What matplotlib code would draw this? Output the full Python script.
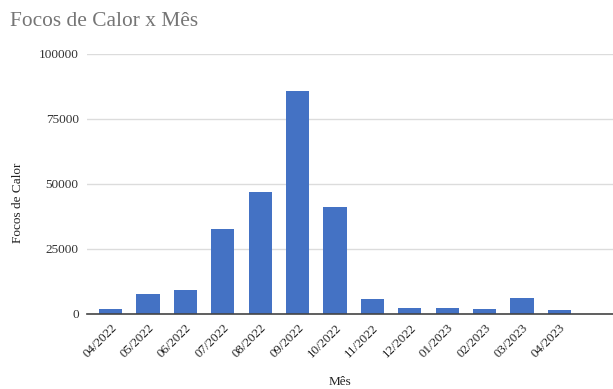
import matplotlib
matplotlib.use("Agg")
import matplotlib.pyplot as plt

months = ["04/2022", "05/2022", "06/2022", "07/2022", "08/2022", "09/2022",
          "10/2022", "11/2022", "12/2022", "01/2023", "02/2023", "03/2023", "04/2023"]
focos = [1700, 7500, 9100, 32500, 46900, 85800, 40900, 5650, 2200, 2200, 1700, 6000, 1300]
yticks = [0, 25000, 50000, 75000, 100000]

plt.rcParams["font.family"] = ["Liberation Serif", "DejaVu Serif"]

fig = plt.figure(figsize=(6.13, 3.89), dpi=100)
W, H = 613, 389
ax = fig.add_axes([87 / W, 1 - 313.7 / H, (613 - 87) / W, (313.7 - 53.7) / H])

x = list(range(len(months)))
ax.bar(x, focos, width=0.62, color="#4472c4", zorder=3)

ax.set_ylim(0, 100000)
ax.set_xlim(-0.63, 13.43)
ax.set_yticks(yticks)
ax.set_yticklabels([str(v) for v in yticks], fontsize=9.5, color="#333333")
ax.set_xticks(x)
ax.set_xticklabels(months, rotation=45, ha="right", rotation_mode="anchor",
                   fontsize=9.3, color="#222222")
ax.tick_params(axis="both", length=0)
ax.tick_params(axis="y", pad=6)
ax.tick_params(axis="x", pad=6)

ax.grid(axis="y", color="#dcdcdc", linewidth=1, zorder=0)
for s in ("top", "right", "left"):
    ax.spines[s].set_visible(False)
ax.spines["bottom"].set_color("#444444")
ax.spines["bottom"].set_linewidth(1.2)
ax.spines["bottom"].set_zorder(4)

fig.text(10 / W, 1 - 22 / H, "Focos de Calor x Mês", fontsize=15.4, color="#757575",
         va="center", ha="left")
fig.text(18 / W, 1 - 203 / H, "Focos de Calor", fontsize=9.5, color="#222222",
         rotation=90, va="center", ha="center")
fig.text(340 / W, 1 - 382 / H, "Mês", fontsize=9.5, color="#222222",
         va="center", ha="center")

fig.savefig("out.png", dpi=100)
